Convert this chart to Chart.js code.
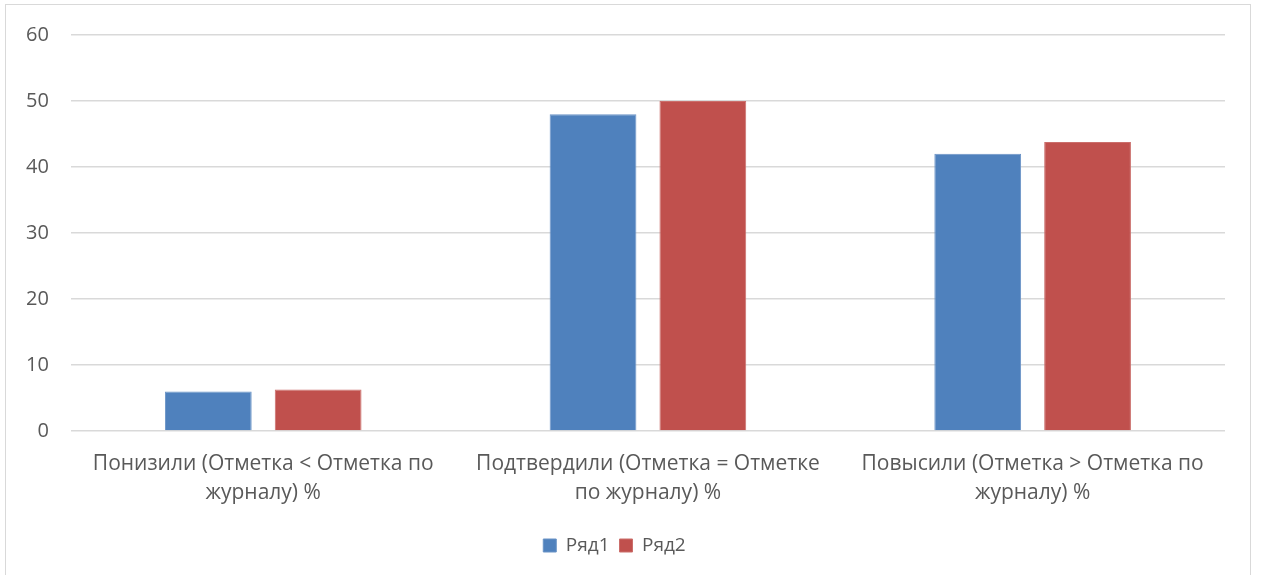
<!DOCTYPE html>
<html>
<head>
<meta charset="utf-8">
<script src="https://cdn.jsdelivr.net/npm/chart.js@4"></script>
<style>
html,body{margin:0;padding:0;background:#fff;overflow:hidden;}
#wrap{position:relative;width:1261px;height:575px;}
#frame{position:absolute;left:5px;top:4px;width:1246px;height:600px;border:1.5px solid #d9d9d9;box-sizing:border-box;}
canvas{position:absolute;left:0;top:0;}
</style>
</head>
<body>
<div id="wrap">
<div id="frame"></div>
<canvas id="c" width="1261" height="575"></canvas>
</div>
<script>
const categories = [
  ["Понизили (Отметка < Отметка по", "журналу) %"],
  ["Подтвердили (Отметка = Отметке", "по журналу) %"],
  ["Повысили (Отметка > Отметка по", "журналу) %"]
];
const seriesNames = ["Ряд1", "Ряд2"];
const series1 = [6, 48, 42];
const series2 = [6.3, 50, 43.8];
const yTicks = [0, 10, 20, 30, 40, 50, 60];

const FONT = "'Open Sans', sans-serif";
const TXT = "#595959";

new Chart(document.getElementById('c'), {
  type: 'bar',
  data: {
    labels: categories,
    datasets: [
      {label: seriesNames[0], data: series1, backgroundColor: '#4f81bd', borderColor:'#6a93c6', borderWidth:1, barPercentage: 0.79, categoryPercentage: 0.571},
      {label: seriesNames[1], data: series2, backgroundColor: '#c0504d', borderColor:'#cb6e6b', borderWidth:1, barPercentage: 0.79, categoryPercentage: 0.571}
    ]
  },
  options: {
    responsive: false,
    animation: false,
    layout: {padding: {top: 35, left: 4, right: 36, bottom: 10}},
    plugins: {
      legend: {
        position: 'bottom',
        labels: {boxWidth: 13, boxHeight: 13, padding: 10, color: TXT, font: {family: FONT, size: 19}}
      },
      tooltip: {enabled: false}
    },
    scales: {
      x: {
        grid: {display: false},
        border: {display: false},
        afterFit: (s) => { s.height = 95; },
        ticks: {color: TXT, font: {family: FONT, size: 21, lineHeight: 1.38}, padding: 11, maxRotation: 0, autoSkip: false}
      },
      y: {
        min: 0, max: 60,
        afterBuildTicks: (axis) => { axis.ticks = yTicks.map(v => ({value: v})); },
        grid: {color: '#d9d9d9', lineWidth: 1.5, drawTicks: false},
        border: {display: false},
        ticks: {color: TXT, font: {family: FONT, size: 20}, padding: 22}
      }
    }
  }
});
</script>
</body>
</html>
